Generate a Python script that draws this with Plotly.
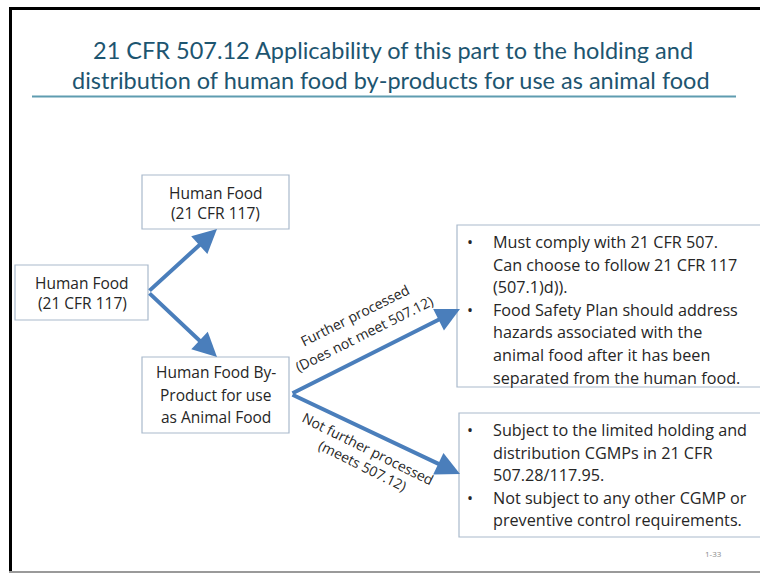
import plotly.graph_objects as go

# ---- content ----
title_lines = [
    "21 CFR 507.12 Applicability of this part to the holding and",
    "distribution of human food by-products for use as animal food",
]
source_box = ["Human Food", "(21 CFR 117)"]
human_box = ["Human Food", "(21 CFR 117)"]
byproduct_box = ["Human Food By-", "Product for use", "as Animal Food"]
upper_label = ["Further processed", "(Does not meet 507.12)"]
lower_label = ["Not further processed", "(meets 507.12)"]
upper_bullets = [
    ["Must comply with 21 CFR 507.", "Can choose to follow 21 CFR 117", "(507.1)d))."],
    ["Food Safety Plan should address", "hazards associated with the",
     "animal food after it has been", "separated from the human food."],
]
lower_bullets = [
    ["Subject to the limited holding and", "distribution CGMPs in 21 CFR", "507.28/117.95."],
    ["Not subject to any other CGMP or", "preventive control requirements."],
]
page_number = "1-33"

# ---- styling ----
W, H = 760, 574
TITLE_COLOR = "#1d5570"
TEXT_COLOR = "#262626"
ARROW_COLOR = "#4a7ebb"
BOX_LINE = "#a9b9cc"
FONT = "Open Sans"

fig = go.Figure()
shapes = []
ann = []

def box(x0, y0, x1, y1):
    shapes.append(dict(type="rect", x0=x0, y0=y0, x1=x1, y1=y1,
                       line=dict(color=BOX_LINE, width=1.2), fillcolor="white", layer="below"))

def text(x, y, s, size=14, color=TEXT_COLOR, xanchor="center", angle=0, family=FONT):
    ann.append(dict(x=x, y=y, text=s, showarrow=False, xanchor=xanchor, yanchor="middle",
                    textangle=angle, font=dict(size=size, color=color, family=family)))

def arrow(x0, y0, x1, y1):
    ann.append(dict(x=x1, y=y1, ax=x0, ay=y0, xref="x", yref="y", axref="x", ayref="y",
                    text="", showarrow=True, arrowhead=2, arrowsize=1.2, arrowwidth=4,
                    arrowcolor=ARROW_COLOR, standoff=0, startstandoff=0))

# frame
shapes.append(dict(type="line", x0=10.5, y0=7, x1=10.5, y1=572, line=dict(color="black", width=3)))
shapes.append(dict(type="line", x0=9, y0=8.5, x1=770, y1=8.5, line=dict(color="black", width=3)))
shapes.append(dict(type="line", x0=9, y0=572, x1=770, y1=572, line=dict(color="#9a9a9a", width=2)))

# title
text(393, 50, title_lines[0], size=23.5, color=TITLE_COLOR, family="Lato")
text(391, 80, title_lines[1], size=23.5, color=TITLE_COLOR, family="Lato")
shapes.append(dict(type="line", x0=32, y0=96.5, x1=736, y1=96.5, line=dict(color="#5f9cb0", width=2)))

# boxes
box(15, 265, 148, 320)
for i, s in enumerate(source_box):
    text(82, 283 + 20 * i, s, size=15.5)
box(142, 175, 289, 229)
for i, s in enumerate(human_box):
    text(215.5, 193 + 20 * i, s, size=15.5)
box(142, 357, 289, 433)
for i, s in enumerate(byproduct_box):
    text(215.5, 372 + 22.5 * i, s, size=15.5)

# arrows
arrow(148, 292, 217, 229)
arrow(148, 292, 217, 357)
arrow(291, 394, 460, 309)
arrow(291, 394, 460, 474)

# arrow labels
text(354, 315, upper_label[0], angle=-26.5, size=14)
text(364, 333, upper_label[1], angle=-26.5, size=14)
text(368, 448, lower_label[0], angle=26.5, size=14)
text(363, 465, lower_label[1], angle=26.5, size=14)

# right boxes
box(457, 225, 775, 387)
y = 242
for item in upper_bullets:
    text(470, y, "•", size=16, xanchor="center")
    for line in item:
        text(491, y, line, size=16.2, xanchor="left")
        y += 22.6
box(459, 413, 775, 537)
y = 430
for item in lower_bullets:
    text(470, y, "•", size=16, xanchor="center")
    for line in item:
        text(491, y, line, size=16.2, xanchor="left")
        y += 22.6

text(713, 553, page_number, size=8, color="#8a8a8a")

fig.update_layout(
    width=W, height=H, margin=dict(l=0, r=0, t=0, b=0),
    paper_bgcolor="white", plot_bgcolor="white",
    xaxis=dict(range=[0, W], visible=False, fixedrange=True),
    yaxis=dict(range=[H, 0], visible=False, fixedrange=True),
    shapes=shapes, annotations=ann, showlegend=False,
)
fig.write_html("out.html", post_script="document.body.style.margin='0';document.body.style.overflow='hidden';",
               config={"displayModeBar": False})
